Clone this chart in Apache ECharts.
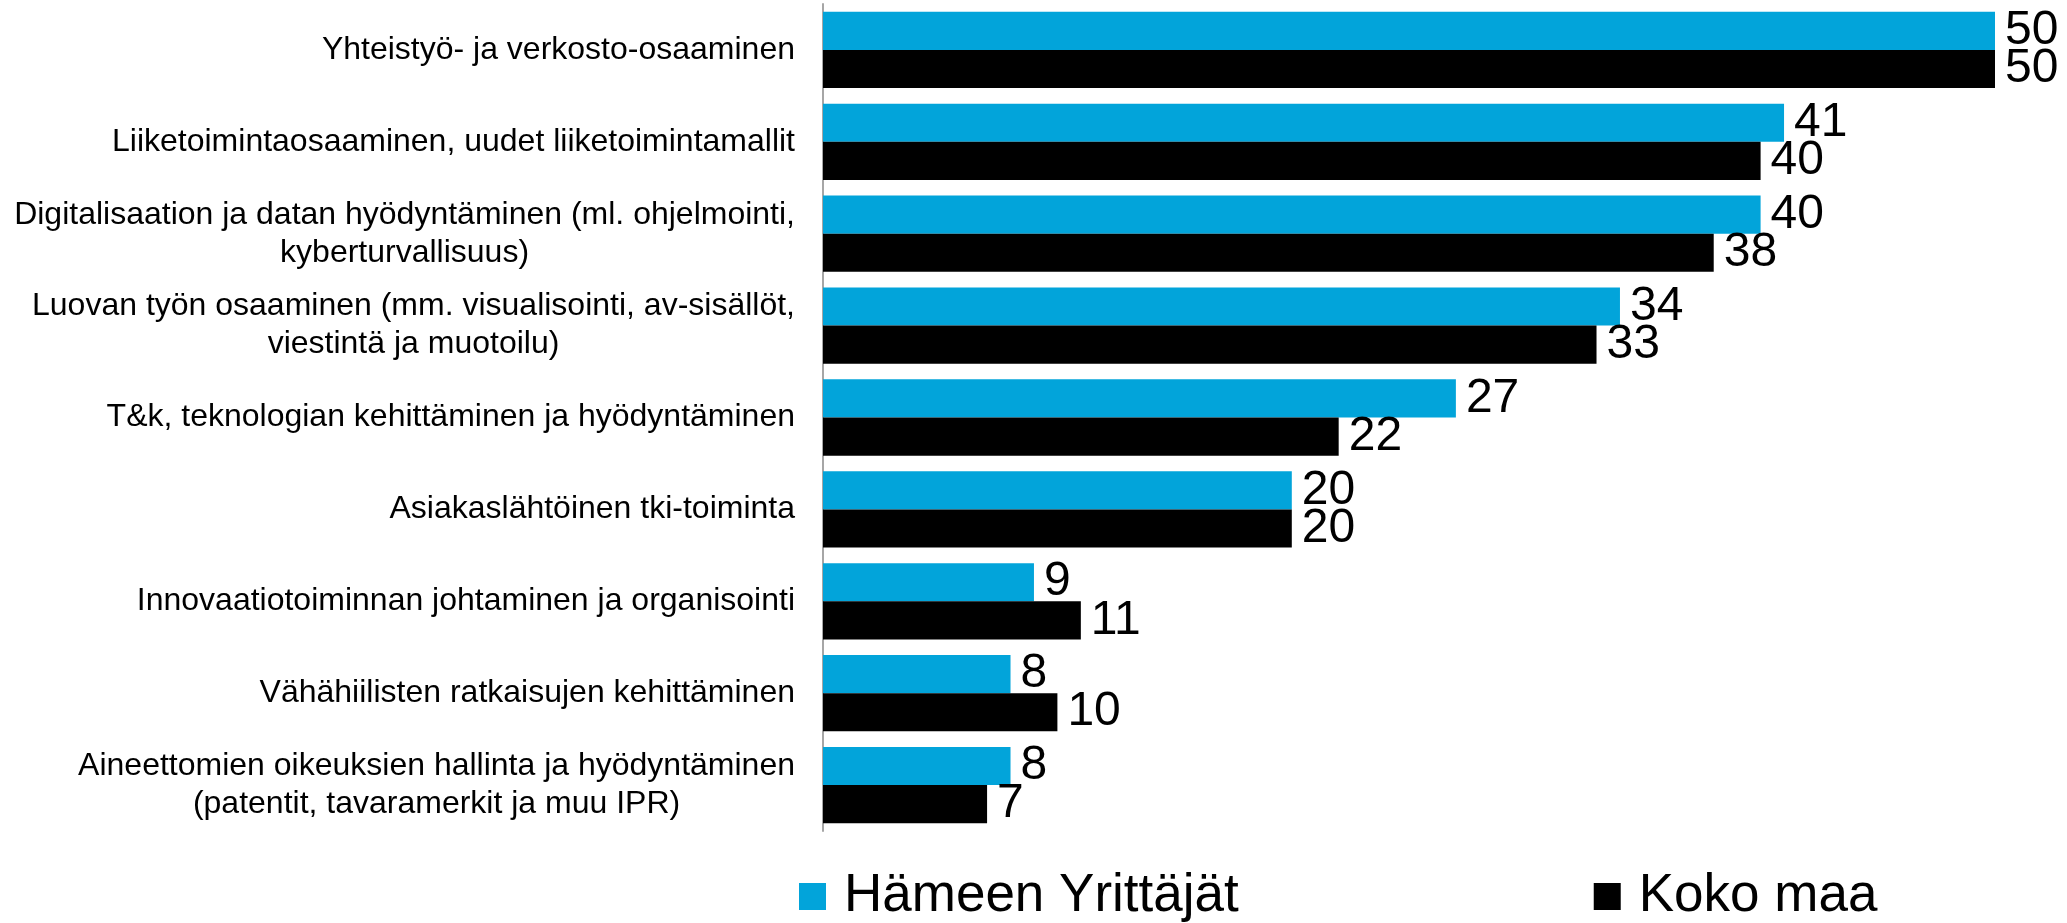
<!DOCTYPE html>
<html>
<head>
<meta charset="utf-8">
<script src="https://cdn.jsdelivr.net/npm/echarts@6/dist/echarts.min.js"></script>
<style>
  html, body { margin: 0; padding: 0; background: #ffffff; }
  #chart { width: 2067px; height: 923px; }
</style>
</head>
<body>
<div id="chart"></div>
<script>
// Osaamistarpeet: Hämeen Yrittäjät vs. koko maa (%)
const categories = [
  'Yhteistyö- ja verkosto-osaaminen',
  'Liiketoimintaosaaminen, uudet liiketoimintamallit',
  'Digitalisaation ja datan hyödyntäminen (ml. ohjelmointi,\nkyberturvallisuus)',
  'Luovan työn osaaminen (mm. visualisointi, av-sisällöt,\nviestintä ja muotoilu)',
  'T&k, teknologian kehittäminen ja hyödyntäminen',
  'Asiakaslähtöinen tki-toiminta',
  'Innovaatiotoiminnan johtaminen ja organisointi',
  'Vähähiilisten ratkaisujen kehittäminen',
  'Aineettomien oikeuksien hallinta ja hyödyntäminen\n(patentit, tavaramerkit ja muu IPR)'
];
const seriesNames = ['Hämeen Yrittäjät', 'Koko maa'];
const hameenYrittajat = [50, 41, 40, 34, 27, 20, 9, 8, 8];
const kokoMaa = [50, 40, 38, 33, 22, 20, 11, 10, 7];

const FONT = "'Liberation Sans', Arial, Helvetica, sans-serif";
const BLUE = '#02A4DA';
const BLACK = '#000000';

const chart = echarts.init(document.getElementById('chart'), null, { renderer: 'canvas' });

const barLabel = {
  show: true,
  position: 'right',
  distance: 10,
  color: '#000',
  fontFamily: FONT,
  fontSize: 48
};

chart.setOption({
  backgroundColor: '#ffffff',
  animation: false,
  grid: { left: 823, right: 72, top: 4, bottom: 92, containLabel: false },
  xAxis: {
    type: 'value',
    min: 0,
    max: 50,
    show: false
  },
  yAxis: {
    type: 'category',
    data: categories,
    inverse: true,
    axisLine: { show: true, lineStyle: { color: '#A6A6A6', width: 2 } },
    axisTick: { show: false },
    splitLine: { show: false },
    axisLabel: {
      align: 'right',
      margin: 28,
      fontFamily: FONT,
      fontSize: 32,
      color: '#000',
      formatter: function (v) {
        return v.split('\n').map(function (l) { return '{c|' + l + '}'; }).join('\n');
      },
      rich: {
        c: { align: 'center', fontFamily: FONT, fontSize: 32, lineHeight: 38, color: '#000' }
      }
    }
  },
  legend: {
    left: 794,
    top: 865,
    itemWidth: 27,
    itemHeight: 27,
    itemGap: 355,
    icon: 'rect',
    textStyle: { fontFamily: FONT, fontSize: 53, color: '#000', padding: [0, 0, 0, 13] },
    data: seriesNames
  },
  series: [
    {
      name: seriesNames[0],
      type: 'bar',
      data: hameenYrittajat,
      itemStyle: { color: BLUE },
      barGap: '0%',
      barCategoryGap: '17%',
      label: barLabel
    },
    {
      name: seriesNames[1],
      type: 'bar',
      data: kokoMaa,
      itemStyle: { color: BLACK },
      barGap: '0%',
      barCategoryGap: '17%',
      label: barLabel
    }
  ]
});
</script>
</body>
</html>
